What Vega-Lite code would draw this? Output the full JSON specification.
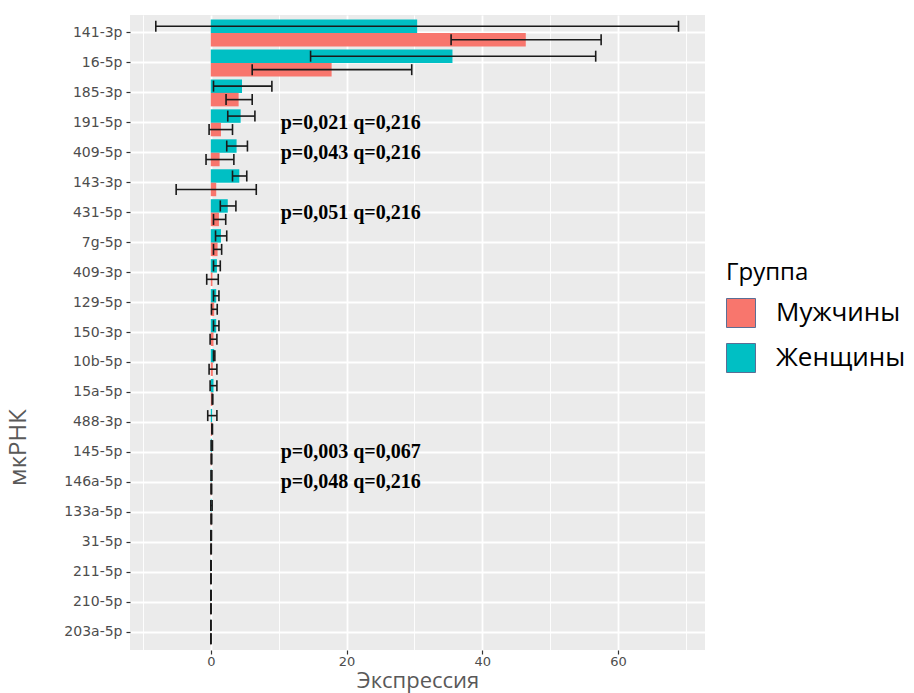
{
  "$schema": "https://vega.github.io/schema/vega-lite/v6.json",
  "width": 575,
  "height": 635,
  "autosize": {"type": "none"},
  "padding": {"left": 130, "top": 15, "right": 209, "bottom": 43},
  "background": "white",
  "config": {
    "font": "DejaVu Sans",
    "view": {"fill": "#EBEBEB", "stroke": null}
  },
  "datasets": {
    "bars": [
      {"mirna": "141-3p", "group": "Женщины", "mean": 30.4, "lo": -8.1, "hi": 68.9},
      {"mirna": "141-3p", "group": "Мужчины", "mean": 46.4, "lo": 35.4, "hi": 57.5},
      {"mirna": "16-5p", "group": "Женщины", "mean": 35.6, "lo": 14.7, "hi": 56.7},
      {"mirna": "16-5p", "group": "Мужчины", "mean": 17.8, "lo": 6.1, "hi": 29.6},
      {"mirna": "185-3p", "group": "Женщины", "mean": 4.6, "lo": 0.4, "hi": 9.0},
      {"mirna": "185-3p", "group": "Мужчины", "mean": 4.1, "lo": 2.25, "hi": 6.1},
      {"mirna": "191-5p", "group": "Женщины", "mean": 4.4, "lo": 2.5, "hi": 6.5},
      {"mirna": "191-5p", "group": "Мужчины", "mean": 1.5, "lo": -0.25, "hi": 3.2},
      {"mirna": "409-5p", "group": "Женщины", "mean": 3.8, "lo": 2.35, "hi": 5.4},
      {"mirna": "409-5p", "group": "Мужчины", "mean": 1.3, "lo": -0.7, "hi": 3.4},
      {"mirna": "143-3p", "group": "Женщины", "mean": 4.2, "lo": 3.2, "hi": 5.3},
      {"mirna": "143-3p", "group": "Мужчины", "mean": 0.8, "lo": -5.1, "hi": 6.7},
      {"mirna": "431-5p", "group": "Женщины", "mean": 2.5, "lo": 1.4, "hi": 3.7},
      {"mirna": "431-5p", "group": "Мужчины", "mean": 1.2, "lo": 0.4, "hi": 2.2},
      {"mirna": "7g-5p", "group": "Женщины", "mean": 1.5, "lo": 0.7, "hi": 2.35},
      {"mirna": "7g-5p", "group": "Мужчины", "mean": 1.0, "lo": 0.4, "hi": 1.6},
      {"mirna": "409-3p", "group": "Женщины", "mean": 0.9, "lo": 0.4, "hi": 1.4},
      {"mirna": "409-3p", "group": "Мужчины", "mean": 0.25, "lo": -0.6, "hi": 1.1},
      {"mirna": "129-5p", "group": "Женщины", "mean": 0.8, "lo": 0.4, "hi": 1.2},
      {"mirna": "129-5p", "group": "Мужчины", "mean": 0.5, "lo": 0.1, "hi": 0.95},
      {"mirna": "150-3p", "group": "Женщины", "mean": 0.8, "lo": 0.4, "hi": 1.2},
      {"mirna": "150-3p", "group": "Мужчины", "mean": 0.4, "lo": -0.1, "hi": 0.9},
      {"mirna": "10b-5p", "group": "Женщины", "mean": 0.5, "lo": 0.4, "hi": 0.6},
      {"mirna": "10b-5p", "group": "Мужчины", "mean": 0.3, "lo": -0.25, "hi": 0.9},
      {"mirna": "15a-5p", "group": "Женщины", "mean": 0.4, "lo": -0.1, "hi": 0.9},
      {"mirna": "15a-5p", "group": "Мужчины", "mean": 0.25, "lo": 0.2, "hi": 0.3},
      {"mirna": "488-3p", "group": "Женщины", "mean": 0.2, "lo": -0.45, "hi": 0.9},
      {"mirna": "488-3p", "group": "Мужчины", "mean": 0.2, "lo": 0.15, "hi": 0.25},
      {"mirna": "145-5p", "group": "Женщины", "mean": 0.15, "lo": 0.05, "hi": 0.25},
      {"mirna": "145-5p", "group": "Мужчины", "mean": 0.1, "lo": 0.05, "hi": 0.15},
      {"mirna": "146a-5p", "group": "Женщины", "mean": 0.1, "lo": 0.03, "hi": 0.17},
      {"mirna": "146a-5p", "group": "Мужчины", "mean": 0.08, "lo": 0.03, "hi": 0.13},
      {"mirna": "133a-5p", "group": "Женщины", "mean": 0.1, "lo": 0.0, "hi": 0.2},
      {"mirna": "133a-5p", "group": "Мужчины", "mean": 0.08, "lo": 0.03, "hi": 0.13},
      {"mirna": "31-5p", "group": "Женщины", "mean": 0.05, "lo": 0.0, "hi": 0.1},
      {"mirna": "31-5p", "group": "Мужчины", "mean": 0.05, "lo": 0.02, "hi": 0.08},
      {"mirna": "211-5p", "group": "Женщины", "mean": 0.03, "lo": 0.0, "hi": 0.06},
      {"mirna": "211-5p", "group": "Мужчины", "mean": 0.03, "lo": 0.01, "hi": 0.05},
      {"mirna": "210-5p", "group": "Женщины", "mean": 0.03, "lo": 0.0, "hi": 0.06},
      {"mirna": "210-5p", "group": "Мужчины", "mean": 0.03, "lo": 0.01, "hi": 0.05},
      {"mirna": "203a-5p", "group": "Женщины", "mean": 0.02, "lo": 0.0, "hi": 0.04},
      {"mirna": "203a-5p", "group": "Мужчины", "mean": 0.02, "lo": 0.0, "hi": 0.04}
    ],
    "notes": [
      {"mirna": "191-5p", "label": "p=0,021 q=0,216"},
      {"mirna": "409-5p", "label": "p=0,043 q=0,216"},
      {"mirna": "431-5p", "label": "p=0,051 q=0,216"},
      {"mirna": "145-5p", "label": "p=0,003 q=0,067"},
      {"mirna": "146a-5p", "label": "p=0,048 q=0,216"}
    ]
  },
  "encoding": {
    "y": {
      "field": "mirna",
      "type": "nominal",
      "sort": null,
      "scale": {
        "domain": ["141-3p", "16-5p", "185-3p", "191-5p", "409-5p", "143-3p", "431-5p", "7g-5p", "409-3p", "129-5p", "150-3p", "10b-5p", "15a-5p", "488-3p", "145-5p", "146a-5p", "133a-5p", "31-5p", "211-5p", "210-5p", "203a-5p"],
        "paddingInner": 0.1,
        "paddingOuter": 0.15
      },
      "axis": {
        "title": "мкРНК",
        "titleFont": "Open Sans",
        "titleFontSize": 24,
        "titleFontWeight": "normal",
        "titleColor": "#595959",
        "titleAngle": -90,
        "titleAlign": "center",
        "titleBaseline": "alphabetic",
        "titleX": -105,
        "titleY": 432,
        "domain": false,
        "ticks": true,
        "tickSize": 4,
        "tickColor": "#333333",
        "tickWidth": 1.2,
        "labelFont": "DejaVu Sans",
        "labelFontSize": 14,
        "labelColor": "#4D4D4D",
        "labelPadding": 4,
        "grid": true,
        "gridColor": "white",
        "gridWidth": 1.8,
        "bandPosition": 0.5
      }
    }
  },
  "layer": [
    {
      "data": {"name": "bars"},
      "mark": {"type": "bar"},
      "encoding": {
        "yOffset": {
          "field": "group",
          "type": "nominal",
          "scale": {"domain": ["Женщины", "Мужчины"], "paddingInner": 0, "paddingOuter": 0}
        },
        "x": {
          "field": "mean",
          "type": "quantitative",
          "stack": null,
          "scale": {"domain": [-11.9, 72.8], "nice": false, "zero": false},
          "axis": {
            "values": [-10, 0, 10, 20, 30, 40, 50, 60, 70],
            "labelExpr": "datum.value % 20 === 0 ? datum.label : ''",
            "labelOverlap": false,
            "domain": false,
            "tickSize": 4,
            "tickColor": "#333333",
            "tickWidth": 1.2,
            "tickOpacity": {"condition": {"test": "datum.value % 20 === 0", "value": 1}, "value": 0},
            "gridColor": "white",
            "gridWidth": {"condition": {"test": "datum.value % 20 === 0", "value": 1.8}, "value": 0.9},
            "labelFont": "DejaVu Sans",
            "labelFontSize": 13,
            "labelColor": "#4D4D4D",
            "labelPadding": 1,
            "title": "Экспрессия",
            "titleFont": "Open Sans",
            "titleFontSize": 22,
            "titleFontWeight": "normal",
            "titleColor": "#595959",
            "titleBaseline": "alphabetic",
            "titleY": 37
          }
        },
        "x2": {"datum": 0},
        "color": {
          "field": "group",
          "type": "nominal",
          "scale": {"domain": ["Мужчины", "Женщины"], "range": ["#F8766D", "#00BFC4"]},
          "legend": {
            "title": "Группа",
            "orient": "none",
            "legendX": 596,
            "legendY": 246,
            "titleFont": "Open Sans",
            "titleFontSize": 24,
            "titleFontWeight": "normal",
            "titleColor": "black",
            "titlePadding": 13,
            "labelFont": "Open Sans",
            "labelFontSize": 26,
            "labelColor": "black",
            "labelOffset": 20,
            "symbolType": "square",
            "symbolSize": 841,
            "symbolStrokeColor": "#5B6E95",
            "symbolStrokeWidth": 1,
            "symbolOpacity": 1,
            "rowPadding": 11
          }
        }
      }
    },
    {
      "data": {"name": "bars"},
      "mark": {"type": "rule", "color": "#1A1A1A", "strokeWidth": 1.6},
      "encoding": {
        "yOffset": {"field": "group", "type": "nominal"},
        "x": {"field": "lo", "type": "quantitative"},
        "x2": {"field": "hi"}
      }
    },
    {
      "data": {"name": "bars"},
      "mark": {"type": "tick", "color": "#1A1A1A", "size": 11, "thickness": 1.6, "opacity": 1},
      "encoding": {
        "yOffset": {"field": "group", "type": "nominal"},
        "x": {"field": "lo", "type": "quantitative"}
      }
    },
    {
      "data": {"name": "bars"},
      "mark": {"type": "tick", "color": "#1A1A1A", "size": 11, "thickness": 1.6, "opacity": 1},
      "encoding": {
        "yOffset": {"field": "group", "type": "nominal"},
        "x": {"field": "hi", "type": "quantitative"}
      }
    },
    {
      "data": {"name": "notes"},
      "mark": {"type": "text", "font": "Liberation Serif", "fontWeight": "bold", "fontSize": 20, "align": "left", "baseline": "middle", "color": "black"},
      "encoding": {
        "x": {"datum": 10.3, "type": "quantitative"},
        "text": {"field": "label", "type": "nominal"}
      }
    }
  ]
}
